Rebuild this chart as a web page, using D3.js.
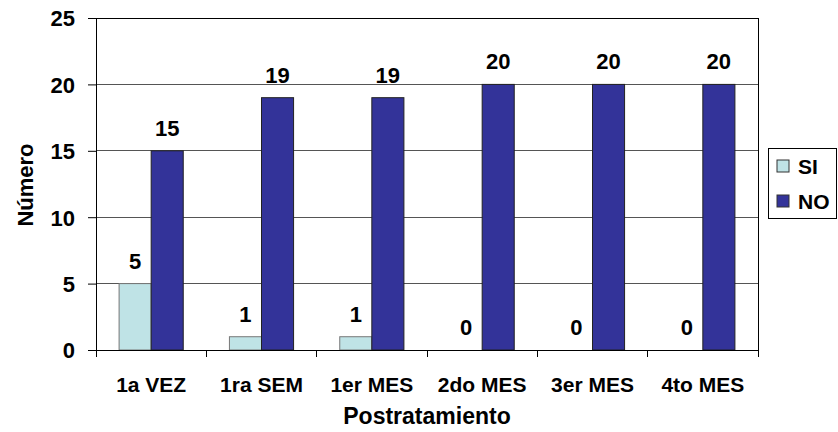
<!DOCTYPE html>
<html>
<head>
<meta charset="utf-8">
<script src="https://cdn.jsdelivr.net/npm/d3@7"></script>
<style>
  html, body { margin: 0; padding: 0; background: #fff; }
  svg text { font-family: "Liberation Sans", Arial, sans-serif; font-weight: bold; fill: #000; }
</style>
</head>
<body>
<svg id="chart" width="838" height="432"></svg>
<script>
// Responses per follow-up period
const categories = ["1a VEZ", "1ra SEM", "1er MES", "2do MES", "3er MES", "4to MES"];
const seriesNames = ["SI", "NO"];
const siValues = [5, 1, 1, 0, 0, 0];
const noValues = [15, 19, 19, 20, 20, 20];
const yTicks = [0, 5, 10, 15, 20, 25];
const colors = { SI: "#bfe3e6", NO: "#333399" };

const svg = d3.select("#chart");
const plot = { left: 96, right: 758, top: 18, bottom: 350 };
const fontFamily = '"Liberation Sans", Arial, sans-serif';

const x = d3.scaleBand().domain(categories).range([plot.left, plot.right]).paddingInner(0).paddingOuter(0);
const inner = d3.scaleBand().domain(seriesNames).range([0, x.bandwidth()]).paddingInner(0).paddingOuter(0.72);
const y = d3.scaleLinear().domain([0, 25]).range([plot.bottom, plot.top]);

// Horizontal gridlines
svg.append("g").selectAll("line").data(yTicks.filter(d => d > 0)).join("line")
  .attr("x1", plot.left).attr("x2", plot.right)
  .attr("y1", d => y(d)).attr("y2", d => y(d))
  .attr("stroke", d => d === 25 ? "#000" : "#555").attr("stroke-width", 1)
  .attr("shape-rendering", "crispEdges");

// Right border of the plot area
svg.append("line")
  .attr("x1", plot.right).attr("x2", plot.right)
  .attr("y1", plot.top).attr("y2", plot.bottom)
  .attr("stroke", "#000").attr("shape-rendering", "crispEdges");

// Bars
const rows = categories.map((c, i) => ({ cat: c, SI: siValues[i], NO: noValues[i] }));
const groups = svg.append("g").selectAll("g").data(rows).join("g")
  .attr("transform", d => `translate(${x(d.cat)},0)`);

groups.selectAll("rect").data(d => seriesNames.map(s => ({ s, v: d[s] })).filter(e => e.v > 0)).join("rect")
  .attr("x", d => inner(d.s))
  .attr("width", inner.bandwidth())
  .attr("y", d => y(d.v))
  .attr("height", d => y(0) - y(d.v))
  .attr("fill", d => colors[d.s])
  .attr("stroke", d => d.s === "SI" ? "#777" : "#222")
  .attr("stroke-width", 1);

// Value labels
groups.selectAll("text").data(d => seriesNames.map(s => ({ s, v: d[s] }))).join("text")
  .attr("x", d => inner(d.s) + inner.bandwidth() / 2)
  .attr("y", d => y(d.v) - 15)
  .attr("text-anchor", "middle")
  .attr("font-size", 22)
  .text(d => d.v);

// Axes
const yAxis = svg.append("g")
  .attr("transform", `translate(${plot.left},0)`)
  .call(d3.axisLeft(y).tickValues(yTicks).tickSize(8).tickPadding(13).tickSizeOuter(0));
yAxis.selectAll("text").attr("font-size", 22).attr("dy", "0.36em")
  .style("font-family", fontFamily).style("font-weight", "bold");

const xAxis = svg.append("g")
  .attr("transform", `translate(0,${plot.bottom})`)
  .call(d3.axisBottom(x).tickSize(0).tickPadding(0).tickSizeOuter(0));
xAxis.selectAll(".tick line").remove();
xAxis.selectAll("text").attr("font-size", 21).attr("dy", 0).attr("y", 42)
  .style("font-family", fontFamily).style("font-weight", "bold");
// Category boundary ticks
svg.append("g").selectAll("line").data(d3.range(categories.length + 1)).join("line")
  .attr("x1", i => plot.left + i * x.step()).attr("x2", i => plot.left + i * x.step())
  .attr("y1", plot.bottom).attr("y2", plot.bottom + 7)
  .attr("stroke", "#000").attr("shape-rendering", "crispEdges");

svg.selectAll(".domain").attr("stroke", "#000").attr("shape-rendering", "crispEdges");

// Axis titles
svg.append("text")
  .attr("x", (plot.left + plot.right) / 2).attr("y", 424)
  .attr("text-anchor", "middle").attr("font-size", 23)
  .text("Postratamiento");
svg.append("text")
  .attr("transform", "translate(33,185) rotate(-90)")
  .attr("text-anchor", "middle").attr("font-size", 22)
  .text("Número");

// Legend
const legend = svg.append("g");
legend.append("rect")
  .attr("x", 768.5).attr("y", 148.5).attr("width", 68).attr("height", 70)
  .attr("fill", "#fff").attr("stroke", "#000");
const items = legend.selectAll("g").data(seriesNames).join("g")
  .attr("transform", (d, i) => `translate(777,${160 + i * 35})`);
items.append("rect").attr("width", 12).attr("height", 12)
  .attr("fill", d => colors[d]).attr("stroke", "#333");
items.append("text").attr("x", 21).attr("y", 14).attr("font-size", 21).text(d => d);
</script>
</body>
</html>
